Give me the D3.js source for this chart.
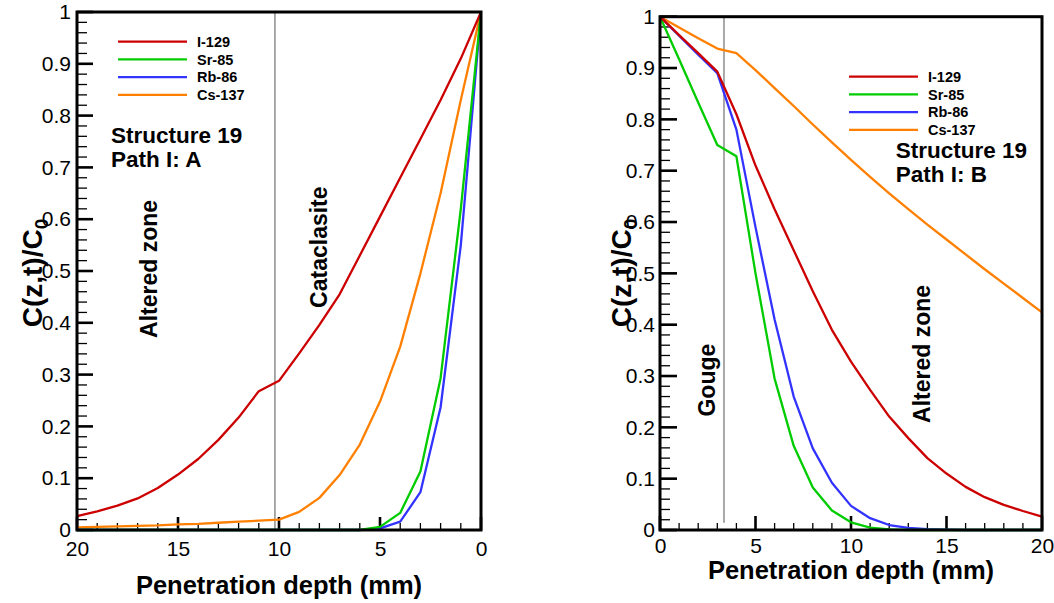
<!DOCTYPE html>
<html>
<head>
<meta charset="utf-8">
<script src="https://cdnjs.cloudflare.com/ajax/libs/d3/7.8.5/d3.min.js"></script>
<style>
  body { margin: 0; background: #fff; }
  text { font-family: "Liberation Sans", Arial, sans-serif; }
</style>
</head>
<body>
<script>
var width = 1054,
    height = 603;

// penetration depth (mm), shared by both panels
var depth_mm = [0, 1, 2, 3, 4, 5, 6, 7, 8, 9, 10, 11, 12, 13, 14, 15, 16, 17, 18, 19, 20];

// Path I: A  (values listed from depth 0 to depth 20)
var leftI129  = [1.0, 0.91, 0.83, 0.755, 0.68, 0.605, 0.53, 0.455, 0.396, 0.341, 0.288, 0.268, 0.217, 0.174, 0.137, 0.107, 0.081, 0.061, 0.047, 0.036, 0.027];
var leftSr85  = [1.0, 0.62, 0.293, 0.113, 0.033, 0.006, 0, 0, 0, 0, 0, 0, 0, 0, 0, 0, 0, 0, 0, 0, 0];
var leftRb86  = [1.0, 0.55, 0.237, 0.073, 0.016, 0.003, 0, 0, 0, 0, 0, 0, 0, 0, 0, 0, 0, 0, 0, 0, 0];
var leftCs137 = [1.0, 0.83, 0.65, 0.495, 0.354, 0.248, 0.165, 0.106, 0.062, 0.035, 0.020, 0.018, 0.016, 0.014, 0.012, 0.011, 0.009, 0.008, 0.007, 0.006, 0.005];

// Path I: B
var rightI129  = [1.0, 0.964, 0.929, 0.893, 0.81, 0.71, 0.625, 0.545, 0.465, 0.39, 0.328, 0.273, 0.221, 0.179, 0.14, 0.11, 0.084, 0.064, 0.049, 0.037, 0.026];
var rightSr85  = [1.0, 0.917, 0.833, 0.75, 0.728, 0.50, 0.295, 0.164, 0.083, 0.038, 0.015, 0.0045, 0.001, 0, 0, 0, 0, 0, 0, 0, 0];
var rightRb86  = [1.0, 0.963, 0.926, 0.89, 0.78, 0.59, 0.41, 0.26, 0.159, 0.092, 0.047, 0.023, 0.0097, 0.004, 0.0015, 0.0005, 0, 0, 0, 0, 0];
var rightCs137 = [1.0, 0.979, 0.958, 0.938, 0.929, 0.896, 0.861, 0.826, 0.790, 0.755, 0.721, 0.688, 0.656, 0.625, 0.595, 0.566, 0.537, 0.508, 0.480, 0.452, 0.424];

var species = ["I-129", "Sr-85", "Rb-86", "Cs-137"];
var species_color = {"I-129": "#cc0000", "Sr-85": "#00cc00", "Rb-86": "#3333ff", "Cs-137": "#ff8000"};

var x_major = [0, 5, 10, 15, 20],
    x_minor = [1, 2, 3, 4, 6, 7, 8, 9, 11, 12, 13, 14, 16, 17, 18, 19],
    y_major = [0, 0.1, 0.2, 0.3, 0.4, 0.5, 0.6, 0.7, 0.8, 0.9, 1],
    y_minor = [0.02, 0.04, 0.06, 0.08, 0.12, 0.14, 0.16, 0.18, 0.22, 0.24, 0.26, 0.28,
               0.32, 0.34, 0.36, 0.38, 0.42, 0.44, 0.46, 0.48, 0.52, 0.54, 0.56, 0.58,
               0.62, 0.64, 0.66, 0.68, 0.72, 0.74, 0.76, 0.78, 0.82, 0.84, 0.86, 0.88,
               0.92, 0.94, 0.96, 0.98];

//DOM init
var svg = d3.select("body")
      .append("svg")
      .attr("width", width)
      .attr("height", height);

// ================ Panel A ================
drawPanel({
    x0: 77, x1: 481, y0: 12, y1: 530,
    xDomain: [20, 0],
    series: [leftI129, leftSr85, leftRb86, leftCs137],
    xMajorLen: 13, yMajorLen: 16, xPad: 10, yPad: 6,
    boundary: {depth: 10.2, bottom: 0},
    yTitleX: 42, xTitleY: 594,
    legend: {x: 118, y: 41.7},
    struct: {x: 111, y: 142.7, text: "Path I: A"},
    zones: [{text: "Altered zone", d: 16.05, v: 0.504},
            {text: "Cataclasite", d: 7.6, v: 0.546}]
});

// ================ Panel B ================
drawPanel({
    x0: 660, x1: 1042, y0: 16.7, y1: 530,
    xDomain: [0, 20],
    series: [rightI129, rightSr85, rightRb86, rightCs137],
    xMajorLen: 14, yMajorLen: 17, xPad: 7, yPad: 5,
    boundary: {depth: 3.35, bottom: 0.014},
    yTitleX: 631, xTitleY: 579,
    legend: {x: 849, y: 76.7},
    struct: {x: 895.7, y: 157.7, text: "Path I: B"},
    zones: [{text: "Gouge", d: 2.87, v: 0.292},
            {text: "Altered zone", d: 14.14, v: 0.343}]
});

function drawPanel(p) {
    var x = d3.scaleLinear().domain(p.xDomain).range([p.x0, p.x1]),
        y = d3.scaleLinear().domain([0, 1]).range([p.y1, p.y0]);

    var g = svg.append("g");

    //tick labels from d3 axes (tick lines drawn below)
    var ya = g.append("g")
        .attr("transform", "translate(" + p.x0 + ",0)")
        .call(d3.axisLeft(y).tickValues(y_major).tickSize(0).tickPadding(p.yPad)
              .tickFormat(function(d) { return d3.format("~g")(d); }));
    ya.select(".domain").remove();
    ya.selectAll("text").attr("font-size", "21px").attr("fill", "#000")
        .attr("font-family", "Liberation Sans, Arial, sans-serif");

    var xa = g.append("g")
        .attr("transform", "translate(0," + p.y1 + ")")
        .call(d3.axisBottom(x).tickValues(x_major).tickSize(0).tickPadding(p.xPad + 1));
    xa.select(".domain").remove();
    xa.selectAll("text").attr("font-size", "21px").attr("fill", "#000")
        .attr("font-family", "Liberation Sans, Arial, sans-serif");

    //inward ticks
    var gt = g.append("g").attr("stroke", "#000");
    gt.selectAll(".ymin").data(y_minor).enter().append("line")
        .attr("x1", p.x0).attr("x2", p.x0 + 10)
        .attr("y1", function(d) { return y(d); }).attr("y2", function(d) { return y(d); })
        .attr("stroke-width", 1.3);
    gt.selectAll(".ymaj").data(y_major).enter().append("line")
        .attr("x1", p.x0).attr("x2", p.x0 + p.yMajorLen)
        .attr("y1", function(d) { return y(d); }).attr("y2", function(d) { return y(d); })
        .attr("stroke-width", 2.6);
    gt.selectAll(".xmin").data(x_minor).enter().append("line")
        .attr("x1", function(d) { return x(d); }).attr("x2", function(d) { return x(d); })
        .attr("y1", p.y1).attr("y2", p.y1 - 7)
        .attr("stroke-width", 1.3);
    gt.selectAll(".xmaj").data(x_major).enter().append("line")
        .attr("x1", function(d) { return x(d); }).attr("x2", function(d) { return x(d); })
        .attr("y1", p.y1).attr("y2", p.y1 - p.xMajorLen)
        .attr("stroke-width", 2.6);

    //zone boundary
    g.append("line")
        .attr("x1", x(p.boundary.depth)).attr("x2", x(p.boundary.depth))
        .attr("y1", y(1)).attr("y2", y(p.boundary.bottom))
        .attr("stroke", "#555").attr("stroke-width", 1);

    //curves
    var line = d3.line()
        .x(function(d, i) { return x(depth_mm[i]); })
        .y(function(d) { return y(d); });

    for (var k = p.series.length - 1; k >= 0; k--) {
        g.append("path")
            .attr("d", line(p.series[k]))
            .attr("fill", "none")
            .attr("stroke", species_color[species[k]])
            .attr("stroke-width", 2.3)
            .attr("stroke-linejoin", "round");
    }

    //frame
    g.append("rect")
        .attr("x", p.x0).attr("y", p.y0)
        .attr("width", p.x1 - p.x0).attr("height", p.y1 - p.y0)
        .attr("fill", "none").attr("stroke", "#000").attr("stroke-width", 3);

    //axis titles
    g.append("text")
        .attr("x", (p.x0 + p.x1) / 2).attr("y", p.xTitleY)
        .attr("text-anchor", "middle")
        .attr("font-size", "25.5px").attr("font-weight", "bold")
        .text("Penetration depth (mm)");

    var yt = g.append("text")
        .attr("transform", "translate(" + p.yTitleX + "," + 273 + ") rotate(-90)")
        .attr("text-anchor", "middle")
        .attr("font-size", "28px").attr("font-weight", "bold");
    yt.append("tspan").text("C(z,t)/C");
    yt.append("tspan").attr("font-size", "19px").attr("dy", 6).text("0");

    //legend
    var lg = g.append("g");
    species.forEach(function(s, i) {
        var ly = p.legend.y + i * 17.7;
        lg.append("line")
            .attr("x1", p.legend.x).attr("x2", p.legend.x + 69)
            .attr("y1", ly).attr("y2", ly)
            .attr("stroke", species_color[s]).attr("stroke-width", 2.3);
        lg.append("text")
            .attr("x", p.legend.x + 79).attr("y", ly + 5.2)
            .attr("font-size", "14.5px").attr("font-weight", "bold")
            .text(s);
    });

    //structure label
    g.append("text")
        .attr("x", p.struct.x).attr("y", p.struct.y)
        .attr("font-size", "22.5px").attr("font-weight", "bold")
        .text("Structure 19");
    g.append("text")
        .attr("x", p.struct.x).attr("y", p.struct.y + 24)
        .attr("font-size", "22.5px").attr("font-weight", "bold")
        .text(p.struct.text);

    //zone labels
    p.zones.forEach(function(z) {
        g.append("text")
            .attr("transform", "translate(" + x(z.d) + "," + y(z.v) + ") rotate(-90)")
            .attr("text-anchor", "middle")
            .attr("font-size", "23px").attr("font-weight", "bold")
            .text(z.text);
    });
}
</script>
</body>
</html>
